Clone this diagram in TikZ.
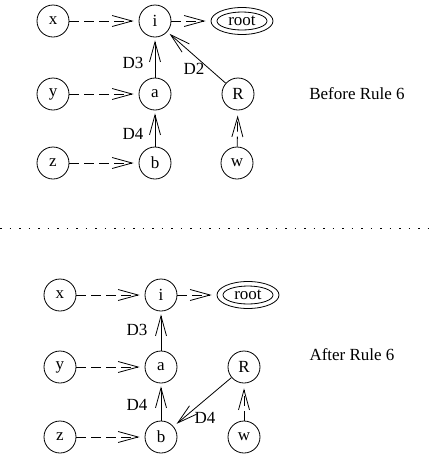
\documentclass[tikz,border=0pt]{standalone}
\usepackage{fontspec}
\setmainfont{Liberation Serif}
\usetikzlibrary{arrows.meta,shapes.geometric}
\begin{document}
\begin{tikzpicture}[x=1pt,y=-1pt,
  txt/.style={font=\fontsize{17}{20}\selectfont},
  nd/.style={circle,draw,minimum size=32pt,inner sep=0pt,line width=0.8pt,txt},
  rt/.style={ellipse,draw,minimum width=62pt,minimum height=27pt,inner sep=0pt,line width=0.8pt,txt},
  ptr/.style={-{Straight Barb[length=20pt,width=11pt,line width=0.8pt]},dash pattern=on 10pt off 5pt,line width=0.8pt,shorten >=5pt},
  dedge/.style={-{Straight Barb[length=20pt,width=11pt,line width=0.8pt]},line width=0.8pt,shorten >=3pt},
  sep/.style={line width=1pt,dash pattern=on 1.5pt off 8pt}]
\useasboundingbox (0,0) rectangle (436,456);
% ---------- before ----------
\node[nd] (x1) at (53,21) {x};
\node[nd] (i1) at (155,21) {i};
\node[rt] (r1) at (242,21) {};
\draw[line width=0.8pt] (r1.center) ellipse (25pt and 9pt);
\node[txt] at (r1.center) {root};
\node[nd] (y1) at (53,94) {y};
\node[nd] (a1) at (155,94) {a};
\node[nd] (R1) at (238,94) {R};
\node[nd] (z1) at (53,163) {z};
\node[nd] (b1) at (155,163) {b};
\node[nd] (w1) at (237,163) {w};
\draw[ptr] (x1) -- (i1);
\draw[ptr] (i1) -- (r1);
\draw[ptr] (y1) -- (a1);
\draw[ptr] (z1) -- (b1);
\draw[ptr] (w1) -- (R1);
\draw[dedge] (a1) -- (i1);
\draw[dedge] (b1) -- (a1);
\draw[dedge] (R1) -- (i1);
\node[txt] (l1) at (133,63) {D3};
\node[txt] (l2) at (194,69) {D2};
\node[txt] (l3) at (133,134) {D4};
\node[txt] (t1) at (357,94) {Before Rule 6};
% ---------- separator ----------
\draw[sep] (0,228) -- (436,228);
% ---------- after ----------
\node[nd] (x2) at (60,295) {x};
\node[nd] (i2) at (161,295) {i};
\node[rt] (r2) at (248,295) {};
\draw[line width=0.8pt] (r2.center) ellipse (25pt and 9pt);
\node[txt] at (r2.center) {root};
\node[nd] (y2) at (60,367) {y};
\node[nd] (a2) at (161,367) {a};
\node[nd] (R2) at (244,367) {R};
\node[nd] (z2) at (60,437) {z};
\node[nd] (b2) at (161,437) {b};
\node[nd] (w2) at (244,437) {w};
\draw[ptr] (x2) -- (i2);
\draw[ptr] (i2) -- (r2);
\draw[ptr] (y2) -- (a2);
\draw[ptr] (z2) -- (b2);
\draw[ptr] (w2) -- (R2);
\draw[dedge] (a2) -- (i2);
\draw[dedge] (b2) -- (a2);
\draw[dedge,shorten >=4pt] (R2) -- (b2);
\node[txt] (m1) at (137,330) {D3};
\node[txt] (m2) at (137,405) {D4};
\node[txt] (m3) at (205,418) {D4};
\node[txt] (t2) at (352,355) {After Rule 6};
\end{tikzpicture}
\end{document}
